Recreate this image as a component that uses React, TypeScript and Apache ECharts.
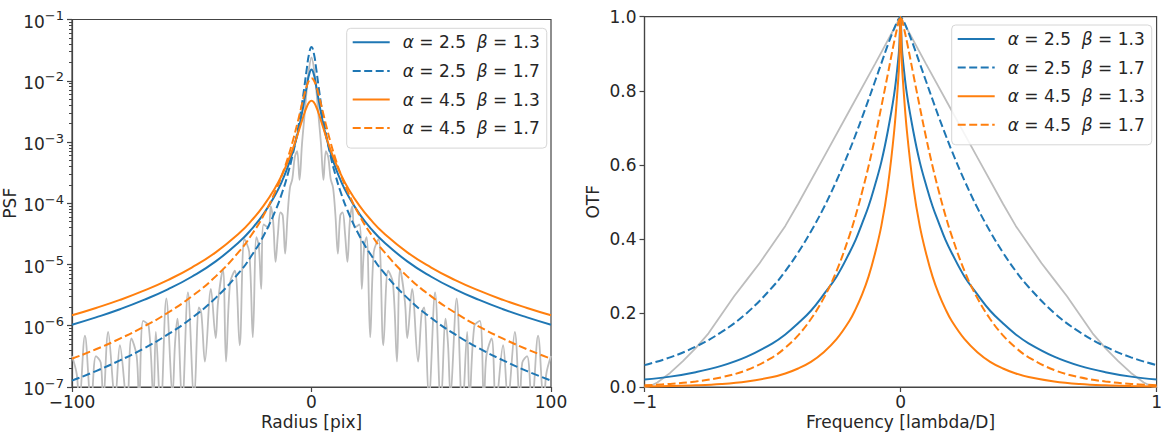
import React, { useEffect, useRef } from 'react';
import * as echarts from 'echarts';

// ---------- data ----------
const seriesNames = ['α = 2.5  β = 1.3', 'α = 2.5  β = 1.7', 'α = 4.5  β = 1.3', 'α = 4.5  β = 1.7'];

// PSF (left panel), radius >= 0 (profile is symmetric)
const radius = [0, 1, 2, 3, 4, 5, 6, 8, 10, 12, 15, 20, 25, 30, 40, 50, 60, 70, 80, 90, 100];
const psfA25B13 = [1.528e-2, 1.26e-2, 8.03e-3, 4.79e-3, 2.93e-3, 1.886e-3, 1.274e-3, 6.58e-4, 3.84e-4, 2.45e-4, 1.4e-4, 6.72e-5, 3.79e-5, 2.37e-5, 1.125e-5, 6.31e-6, 3.93e-6, 2.64e-6, 1.86e-6, 1.37e-6, 1.04e-6];
const psfA25B17 = [3.565e-2, 2.77e-2, 1.537e-2, 7.83e-3, 4.12e-3, 2.31e-3, 1.38e-3, 5.83e-4, 2.89e-4, 1.6e-4, 7.69e-5, 2.95e-5, 1.4e-5, 7.55e-6, 2.85e-6, 1.34e-6, 7.21e-7, 4.27e-7, 2.72e-7, 1.82e-7, 1.27e-7];
const psfA45B13 = [4.72e-3, 4.43e-3, 3.73e-3, 2.92e-3, 2.21e-3, 1.66e-3, 1.25e-3, 7.39e-4, 4.66e-4, 3.1e-4, 1.84e-4, 9.15e-5, 5.24e-5, 3.3e-5, 1.58e-5, 8.91e-6, 5.57e-6, 3.74e-6, 2.64e-6, 1.95e-6, 1.48e-6];
const psfA45B17 = [1.1e-2, 1.014e-2, 8.1e-3, 5.89e-3, 4.09e-3, 2.81e-3, 1.94e-3, 9.75e-4, 5.32e-4, 3.13e-4, 1.59e-4, 6.35e-5, 3.06e-5, 1.67e-5, 6.4e-6, 3.02e-6, 1.63e-6, 9.68e-7, 6.16e-7, 4.13e-7, 2.89e-7];

// diffraction PSF (grey), radius >= 0
const airyRadius = [0, 1, 2, 3, 4, 5, 6, 7, 8, 9, 10, 11, 12, 13, 14, 15, 16, 17, 18, 20, 21, 22, 23, 24.5, 26, 28, 30, 32, 34, 35.7, 37, 39, 40, 42, 44.5, 46, 47, 49, 51.6, 54, 56, 57, 58, 60.6, 63, 65, 66, 68, 70.3, 72, 73, 75.2, 77, 80, 82, 84.9, 87, 88, 90, 92, 94.6, 97, 98, 100];
const airyPsf = [2.4e-2, 1.6e-2, 7.1e-3, 2.5e-3, 8.9e-4, 2.4e-4, 7.1e-4, 5.6e-4, 2.5e-4, 1.8e-4, 6.3e-5, 1.5e-5, 6.3e-5, 7.1e-5, 3.2e-5, 1.1e-5, 5.0e-5, 8.9e-5, 4.0e-5, 4.5e-5, 4.0e-6, 2.0e-5, 2.8e-5, 6.5e-7, 1.6e-5, 2.6e-5, 4.8e-7, 7.9e-6, 5.0e-6, 2.6e-7, 8.3e-6, 2.5e-6, 6.3e-7, 4.0e-6, 2.6e-7, 1.6e-6, 2.0e-6, 6.3e-8, 3.5e-6, 5.0e-8, 1.3e-6, 5.0e-7, 7.9e-8, 2.8e-6, 4.0e-8, 7.9e-7, 6.3e-8, 1.0e-6, 1.2e-6, 5.0e-8, 3.2e-7, 6.2e-7, 5.0e-8, 4.8e-7, 6.3e-8, 7.9e-7, 5.0e-8, 2.5e-7, 3.2e-7, 5.0e-8, 6.9e-7, 5.0e-8, 1.6e-7, 3.2e-7];

// OTF (right panel), frequency >= 0
const freq = [0, 0.005, 0.01, 0.025, 0.05, 0.075, 0.1, 0.125, 0.15, 0.175, 0.2, 0.25, 0.3, 0.35, 0.4, 0.45, 0.5, 0.6, 0.7, 0.8, 0.9, 1.0];
const otfA25B13 = [1, 0.919, 0.878, 0.79, 0.69, 0.608, 0.545, 0.488, 0.442, 0.398, 0.362, 0.298, 0.25, 0.206, 0.172, 0.142, 0.118, 0.082, 0.057, 0.04, 0.028, 0.02];
const otfA25B17 = [1, 0.996, 0.991, 0.968, 0.923, 0.874, 0.825, 0.776, 0.728, 0.682, 0.638, 0.557, 0.484, 0.42, 0.363, 0.313, 0.27, 0.2, 0.148, 0.109, 0.08, 0.059];
const otfA45B13 = [1, 0.88, 0.82, 0.69, 0.54, 0.435, 0.36, 0.298, 0.25, 0.211, 0.178, 0.129, 0.094, 0.068, 0.05, 0.0365, 0.027, 0.015, 0.0081, 0.0044, 0.0024, 0.0013];
const otfA45B17 = [1, 0.992, 0.979, 0.932, 0.844, 0.757, 0.673, 0.596, 0.527, 0.464, 0.408, 0.313, 0.24, 0.1835, 0.1395, 0.106, 0.0803, 0.0459, 0.0261, 0.0149, 0.0084, 0.0048];

const greyFreq = [0, 0.1, 0.2, 0.3, 0.4, 0.45, 0.5, 0.55, 0.6, 0.65, 0.7, 0.75, 0.8, 0.85, 0.9, 0.95, 0.98, 1.0];
const greyOtf = [1, 0.872, 0.746, 0.62, 0.495, 0.435, 0.385, 0.335, 0.29, 0.245, 0.195, 0.145, 0.105, 0.07, 0.038, 0.012, 0.002, 0];

// tick values
const decades = [1e-7, 1e-6, 1e-5, 1e-4, 1e-3, 1e-2, 1e-1];
const minorMultipliers = [2, 3, 4, 5, 6, 7, 8, 9];

// ---------- helpers ----------
const mirror = (xs: number[], ys: number[]) => {
  const out: number[][] = [];
  for (let i = xs.length - 1; i >= 1; i--) out.push([-xs[i], ys[i]]);
  for (let i = 0; i < xs.length; i++) out.push([xs[i], ys[i]]);
  return out;
};

const powLabel = (v: number) => {
  const e = Math.round(Math.log10(v));
  return '{b|10}{s|' + String(e).replace('-', '−') + '}';
};

const FONT = 'DejaVu Sans';
const TXT = '#262626';
const AX = '#444444';
const BLUE = '#1f77b4';
const ORANGE = '#ff7f0e';
const GREY = '#bdbdbd';

export default function App() {
  const ref = useRef<HTMLDivElement>(null);

  useEffect(() => {
    document.body.style.margin = '0';
    const chart = echarts.init(ref.current!, null, { renderer: 'svg' });

    const minorTicks: number[] = [];
    for (let d = 0; d < decades.length - 1; d++) {
      for (const m of minorMultipliers) minorTicks.push(decades[d] * m);
    }

    const styles = [
      { color: BLUE, type: 'solid' },
      { color: BLUE, type: [8, 3.5] },
      { color: ORANGE, type: 'solid' },
      { color: ORANGE, type: [8, 3.5] },
    ];
    const psfData = [psfA25B13, psfA25B17, psfA45B13, psfA45B17];
    const otfData = [otfA25B13, otfA25B17, otfA45B13, otfA45B17];

    const axisLine = { show: true, onZero: false, lineStyle: { color: AX, width: 1.2 } };
    const axisTick = { show: true, length: 5, lineStyle: { color: AX, width: 1.2 } };
    const labelBase = { fontSize: 17, color: TXT, fontFamily: FONT };
    const nameStyle = { fontSize: 17, color: TXT, fontFamily: FONT };

    const legendBase = {
      orient: 'vertical',
      data: seriesNames,
      itemWidth: 37,
      itemHeight: 12,
      itemGap: 8.6,
      itemStyle: { opacity: 0 },
      backgroundColor: 'rgba(255,255,255,0.85)',
      borderColor: '#d6d6d6',
      borderWidth: 1,
      borderRadius: 4,
      padding: [4, 7, 10, 5],
      formatter: (n: string) => '{s| }' + n.replace('α', '{i|α}').replace('β', '{i|β}'),
      textStyle: {
        fontSize: 17,
        color: TXT,
        fontFamily: FONT,
        lineHeight: 20,
        rich: {
          s: { width: 8, fontSize: 17, lineHeight: 20 },
          i: { fontStyle: 'italic', fontSize: 17, fontFamily: FONT, color: TXT, lineHeight: 20 },
        },
      },
    };

    const series: any[] = [];
    series.push({
      type: 'line', xAxisIndex: 0, yAxisIndex: 0, data: mirror(airyRadius, airyPsf),
      symbol: 'none', smooth: 0.35, lineStyle: { color: GREY, width: 1.8 }, itemStyle: { color: GREY }, z: 1,
    });
    psfData.forEach((d, i) => {
      series.push({
        name: seriesNames[i], type: 'line', xAxisIndex: 0, yAxisIndex: 0, data: mirror(radius, d),
        symbol: 'none', smooth: true, lineStyle: { color: styles[i].color, type: styles[i].type, width: 2 },
        itemStyle: { color: styles[i].color }, z: 2,
      });
    });
    series.push({
      type: 'line', xAxisIndex: 1, yAxisIndex: 2, data: mirror(greyFreq, greyOtf),
      symbol: 'none', smooth: false, lineStyle: { color: GREY, width: 1.8 }, itemStyle: { color: GREY }, z: 1,
    });
    otfData.forEach((d, i) => {
      series.push({
        name: seriesNames[i], type: 'line', xAxisIndex: 1, yAxisIndex: 2, data: mirror(freq, d),
        symbol: 'none', smooth: 0.4, lineStyle: { color: styles[i].color, type: styles[i].type, width: 2 },
        itemStyle: { color: styles[i].color }, z: 2,
      });
    });

    chart.setOption({
      animation: false,
      backgroundColor: '#ffffff',
      textStyle: { fontFamily: FONT },
      grid: [
        { left: 66.7, right: 614, top: 19.5, bottom: 46.5, show: true, borderColor: AX, borderWidth: 1.2, containLabel: false },
        { left: 644.5, right: 8.3, top: 16.7, bottom: 46.7, show: true, borderColor: AX, borderWidth: 1.2, containLabel: false },
      ],
      legend: [
        { ...legendBase, left: 346.7, top: 28.3 },
        { ...legendBase, left: 951.7, top: 25 },
      ],
      xAxis: [
        {
          gridIndex: 0, type: 'value', min: -100, max: 100, interval: 100,
          name: 'Radius [pix]', nameLocation: 'middle', nameGap: 26, nameTextStyle: nameStyle, nameMoveOverlap: false,
          axisLine, axisTick, splitLine: { show: false },
          axisLabel: { ...labelBase, margin: 6, formatter: (v: number) => String(v).replace('-', '−') },
        },
        {
          gridIndex: 1, type: 'value', min: -1, max: 1, interval: 1,
          name: 'Frequency [lambda/D]', nameLocation: 'middle', nameGap: 26, nameTextStyle: nameStyle, nameMoveOverlap: false,
          axisLine, axisTick, splitLine: { show: false },
          axisLabel: { ...labelBase, margin: 6, formatter: (v: number) => String(v).replace('-', '−') },
        },
      ],
      yAxis: [
        {
          gridIndex: 0, type: 'log', logBase: 10, min: 1e-7, max: 1e-1, position: 'left',
          name: 'PSF', nameLocation: 'middle', nameGap: 54, nameRotate: 90, nameTextStyle: nameStyle, nameMoveOverlap: false,
          axisLine, splitLine: { show: false }, minorTick: { show: false },
          axisTick: { ...axisTick, customValues: decades },
          axisLabel: {
            ...labelBase, margin: 8, customValues: decades, formatter: (v: number) => powLabel(v),
            rich: {
              b: { fontSize: 17, color: TXT, fontFamily: FONT, verticalAlign: 'bottom' },
              s: { fontSize: 13, color: TXT, fontFamily: FONT, verticalAlign: 'bottom', padding: [0, 0, 8, 0] },
            },
          },
        },
        {
          gridIndex: 0, type: 'log', logBase: 10, min: 1e-7, max: 1e-1, position: 'left',
          axisLine: { show: false, onZero: false }, splitLine: { show: false },
          axisTick: { show: true, length: 3, lineStyle: { color: AX, width: 1 }, customValues: minorTicks },
          axisLabel: { show: false },
        },
        {
          gridIndex: 1, type: 'value', min: 0, max: 1, interval: 0.2,
          name: 'OTF', nameLocation: 'middle', nameGap: 43, nameRotate: 90, nameTextStyle: nameStyle, nameMoveOverlap: false,
          axisLine, axisTick, splitLine: { show: false },
          axisLabel: { ...labelBase, margin: 8, formatter: (v: number) => v.toFixed(1) },
        },
      ],
      series,
    });

    return () => chart.dispose();
  }, []);

  return <div ref={ref} style={{ width: 1165, height: 435 }} />;
}
